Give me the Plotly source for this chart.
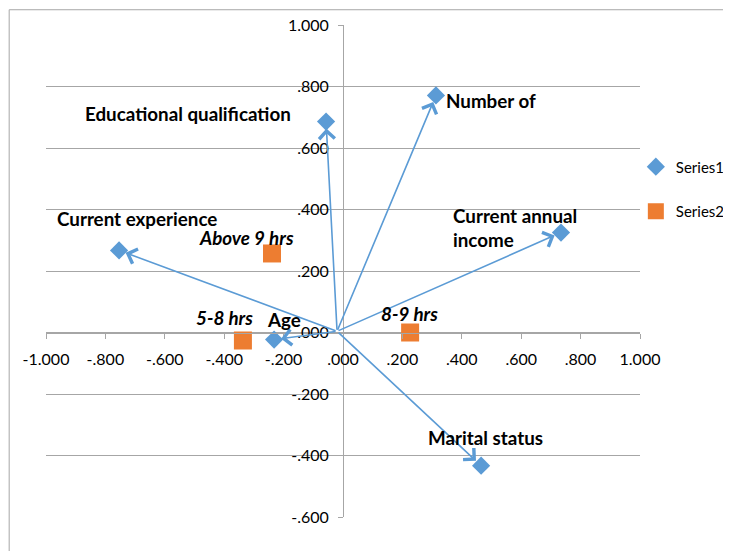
import plotly.graph_objects as go

# ---------------- data ----------------
var_names = ["Educational qualification", "Number of", "Current annual<br>income",
             "Current experience", "Age", "Marital status"]
var_x = [-0.057, 0.313, 0.734, -0.754, -0.232, 0.465]
var_y = [0.686, 0.771, 0.325, 0.267, -0.023, -0.433]

hour_names = ["Above 9 hrs", "5-8 hrs", "8-9 hrs"]
hour_x = [-0.239, -0.337, 0.226]
hour_y = [0.257, -0.026, 0.000]

arrow_origin = (-0.02, 0.004)

x_tickvals = [-1.0, -0.8, -0.6, -0.4, -0.2, 0.0, 0.2, 0.4, 0.6, 0.8, 1.0]
x_ticktext = ["-1.000", "-.800", "-.600", "-.400", "-.200", ".000",
              ".200", ".400", ".600", ".800", "1.000"]
y_tickvals = [-0.6, -0.4, -0.2, 0.0, 0.2, 0.4, 0.6, 0.8, 1.0]
y_ticktext = ["-.600", "-.400", "-.200", ".000", ".200", ".400", ".600", ".800", "1.000"]

# ---------------- style ----------------
BLUE = "#5B9BD5"
ORANGE = "#ED7D31"
GRID = "#A6A6A6"
FONT = "Lato"
LABEL_SIZE = 18.8
# label offsets (pixels) relative to each point, and alignment
var_label_style = [
    dict(xshift=-138, yshift=8, xanchor="center"),
    dict(xshift=8, yshift=-5, xanchor="left"),
    dict(xshift=-110, yshift=5, xanchor="left"),
    dict(xshift=18, yshift=32, xanchor="center"),
    dict(xshift=10, yshift=20, xanchor="center"),
    dict(xshift=4, yshift=28, xanchor="center"),
]
hour_label_style = [
    dict(xshift=-26, yshift=16, xanchor="center"),
    dict(xshift=-18, yshift=23, xanchor="center"),
    dict(xshift=-1, yshift=19, xanchor="center"),
]

fig = go.Figure()
fig.add_trace(go.Scatter(
    x=var_x, y=var_y, mode="markers", name="Series1",
    marker=dict(symbol="diamond", size=14, color=BLUE),
    legendgroup="a", cliponaxis=False,
))
fig.add_trace(go.Scatter(
    x=hour_x, y=hour_y, mode="markers", name="Series2",
    marker=dict(symbol="square", size=18, color=ORANGE),
    legendgroup="b", cliponaxis=False,
))

annotations = []
for xv, yv in zip(var_x, var_y):
    annotations.append(dict(
        x=xv, y=yv, ax=arrow_origin[0], ay=arrow_origin[1],
        xref="x", yref="y", axref="x", ayref="y",
        showarrow=True, arrowhead=4, arrowsize=1.9, arrowwidth=1.6,
        arrowcolor=BLUE, standoff=7, text="",
    ))
for name, xv, yv, st in zip(var_names, var_x, var_y, var_label_style):
    annotations.append(dict(
        x=xv, y=yv, xref="x", yref="y", showarrow=False,
        text="<b>" + name + "</b>", align="left",
        font=dict(family=FONT, size=LABEL_SIZE, color="black"), **st,
    ))
for name, xv, yv, st in zip(hour_names, hour_x, hour_y, hour_label_style):
    annotations.append(dict(
        x=xv, y=yv, xref="x", yref="y", showarrow=False,
        text="<b><i>" + name + "</i></b>",
        font=dict(family=FONT, size=LABEL_SIZE, color="black"), **st,
    ))

fig.update_layout(
    width=723, height=543,
    margin=dict(l=38, r=91, t=17, b=34, autoexpand=False),
    paper_bgcolor="white", plot_bgcolor="white",
    font=dict(family=FONT, size=16, color="black"),
    annotations=annotations,
    showlegend=True,
    legend=dict(x=0.993, y=0.745, xanchor="left", yanchor="top",
                traceorder="grouped", tracegroupgap=22, itemwidth=30,
                font=dict(family=FONT, size=15, color="black"),
                bgcolor="rgba(0,0,0,0)"),
    shapes=[dict(type="rect", xref="paper", yref="paper",
                 x0=-0.062, x1=1.3, y0=-0.2, y1=1.031,
                 line=dict(color=GRID, width=1), layer="below")],
    xaxis=dict(range=[-1, 1], tickvals=x_tickvals, ticktext=x_ticktext,
               showgrid=False, zeroline=False,
               showline=True, linecolor=GRID, linewidth=1,
               ticks="outside", ticklen=5, tickcolor=GRID,
               anchor="free", position=0.375, ticklabelstandoff=7,
               tickfont=dict(family=FONT, size=16)),
    yaxis=dict(range=[-0.6, 1.0], tickvals=y_tickvals, ticktext=y_ticktext,
               showgrid=True, gridcolor=GRID, gridwidth=1.4,
               zeroline=False,
               showline=True, linecolor=GRID, linewidth=1,
               ticks="outside", ticklen=5, tickcolor=GRID,
               anchor="free", position=0.5, ticklabelstandoff=6,
               tickfont=dict(family=FONT, size=16)),
)

fig.write_html("out.html")
